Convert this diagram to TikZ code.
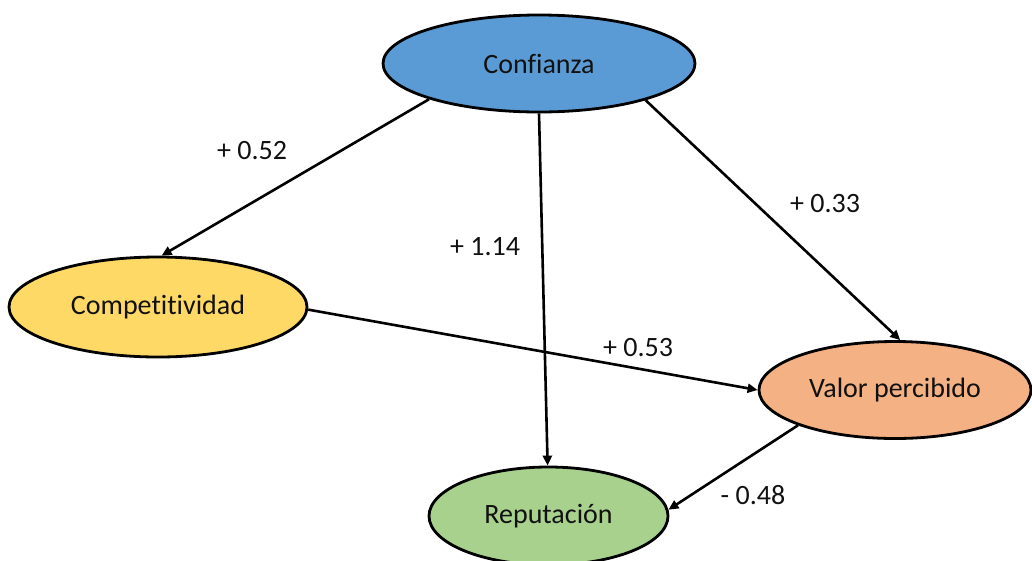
\documentclass[tikz,border=0pt]{standalone}
\usepackage{fontspec}
\setmainfont{Carlito}[Ligatures={NoCommon}]
\usetikzlibrary{shapes.geometric,arrows.meta}
\definecolor{cblue}{HTML}{5B9BD5}
\definecolor{cyellow}{HTML}{FFD966}
\definecolor{corange}{HTML}{F4B183}
\definecolor{cgreen}{HTML}{A9D18E}
\definecolor{ctext}{HTML}{111111}
\tikzset{
  construct/.style={ellipse, draw=black, line width=2.8pt, inner sep=0pt,
    text=ctext, font=\fontsize{28}{32}\selectfont},
  path/.style={line width=2.6pt, -{Triangle[length=10pt,width=9pt]}},
  coef/.style={text=ctext, font=\fontsize{28}{32}\selectfont, inner sep=0pt}
}
\begin{document}
\begin{tikzpicture}[x=1pt,y=-1pt]
\useasboundingbox (0,0) rectangle (1032,560);
% constructs
\node[construct, fill=cblue, minimum width=312pt, minimum height=97pt] (conf) at (539,63.5) {Confianza};
\node[construct, fill=cyellow, minimum width=298pt, minimum height=100pt] (comp) at (158,307) {Competitividad};
\node[construct, fill=corange, minimum width=272pt, minimum height=97pt] (valor) at (895,390) {Valor percibido};
\node[construct, fill=cgreen, minimum width=239pt, minimum height=98pt] (rep) at (548.5,516) {Reputación};
% structural paths
\draw[path] (conf.198.5) -- (comp.86.6);
\draw[path] (conf.270) -- (rep.91);
\draw[path] (conf.341.8) -- (valor.84);
\draw[path] (comp.359) -- (valor.180);
\draw[path] (valor.200.2) -- (rep.3);
% path coefficients
\node[coef] (l1) at (252,151) {+ 0.52};
\node[coef] (l2) at (485,247) {+ 1.14};
\node[coef] (l3) at (825,204) {+ 0.33};
\node[coef] (l4) at (638,348) {+ 0.53};
\node[coef] (l5) at (753,495) {- 0.48};
\end{tikzpicture}
\end{document}
